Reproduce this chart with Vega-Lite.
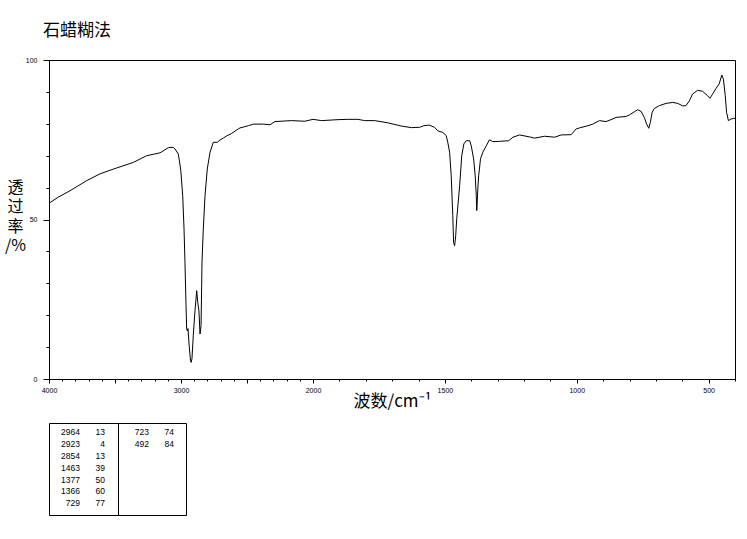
{
  "$schema": "https://vega.github.io/schema/vega-lite/v6.json",
  "background": "white",
  "padding": {"left": 3, "top": 21, "right": 5, "bottom": 5},
  "title": {"text": "石蜡糊法", "anchor": "start", "font": "Noto Sans CJK SC", "fontSize": 17, "fontWeight": "normal", "color": "black", "dx": 39, "offset": 16},
  "bounds": "flush",
  "spacing": 44,
  "datasets": {
    "peaks": [
      {"col": 1, "row": 1, "wn": 2964, "t": 13},
      {"col": 1, "row": 2, "wn": 2923, "t": 4},
      {"col": 1, "row": 3, "wn": 2854, "t": 13},
      {"col": 1, "row": 4, "wn": 1463, "t": 39},
      {"col": 1, "row": 5, "wn": 1377, "t": 50},
      {"col": 1, "row": 6, "wn": 1366, "t": 60},
      {"col": 1, "row": 7, "wn": 729, "t": 77},
      {"col": 2, "row": 1, "wn": 723, "t": 74},
      {"col": 2, "row": 2, "wn": 492, "t": 84}
    ]
  },
  "vconcat": [
    {
      "width": 686,
      "height": 319,
      "data": {"values": [
        {"wn": 3999, "T": 55.1}, {"wn": 3930, "T": 57.0}, {"wn": 3841, "T": 59.0}, {"wn": 3714, "T": 62.2},
        {"wn": 3614, "T": 64.3}, {"wn": 3513, "T": 65.8}, {"wn": 3361, "T": 67.9}, {"wn": 3260, "T": 70.0},
        {"wn": 3159, "T": 70.9}, {"wn": 3096, "T": 72.5}, {"wn": 3083, "T": 72.6}, {"wn": 3058, "T": 72.6},
        {"wn": 3045, "T": 72.1}, {"wn": 3020, "T": 70.5}, {"wn": 3002, "T": 65.5}, {"wn": 2987, "T": 57.5},
        {"wn": 2977, "T": 47.0}, {"wn": 2970, "T": 36.6}, {"wn": 2962, "T": 23.0}, {"wn": 2957, "T": 15.7},
        {"wn": 2952, "T": 15.1}, {"wn": 2947, "T": 15.8}, {"wn": 2938, "T": 10.4}, {"wn": 2928, "T": 5.8},
        {"wn": 2924, "T": 5.2}, {"wn": 2917, "T": 6.3}, {"wn": 2907, "T": 13.6}, {"wn": 2894, "T": 21.4},
        {"wn": 2881, "T": 27.7}, {"wn": 2873, "T": 24.0}, {"wn": 2864, "T": 21.4}, {"wn": 2856, "T": 14.1},
        {"wn": 2848, "T": 16.7}, {"wn": 2841, "T": 36.6}, {"wn": 2831, "T": 47.0}, {"wn": 2818, "T": 57.5},
        {"wn": 2801, "T": 65.8}, {"wn": 2780, "T": 71.1}, {"wn": 2755, "T": 74.2}, {"wn": 2725, "T": 74.2},
        {"wn": 2705, "T": 74.9}, {"wn": 2680, "T": 75.5}, {"wn": 2654, "T": 76.2}, {"wn": 2616, "T": 77.0},
        {"wn": 2566, "T": 78.4}, {"wn": 2553, "T": 78.7}, {"wn": 2490, "T": 79.4}, {"wn": 2452, "T": 79.9},
        {"wn": 2376, "T": 79.9}, {"wn": 2326, "T": 79.7}, {"wn": 2288, "T": 80.7}, {"wn": 2162, "T": 81.0},
        {"wn": 2063, "T": 80.8}, {"wn": 2000, "T": 81.4}, {"wn": 1968, "T": 81.0}, {"wn": 1905, "T": 81.3},
        {"wn": 1867, "T": 81.4}, {"wn": 1830, "T": 81.4}, {"wn": 1804, "T": 81.0}, {"wn": 1766, "T": 81.0},
        {"wn": 1716, "T": 80.3}, {"wn": 1665, "T": 79.3}, {"wn": 1627, "T": 78.8}, {"wn": 1596, "T": 78.9},
        {"wn": 1580, "T": 79.4}, {"wn": 1560, "T": 79.6}, {"wn": 1539, "T": 78.9}, {"wn": 1527, "T": 77.8},
        {"wn": 1508, "T": 77.3}, {"wn": 1495, "T": 76.3}, {"wn": 1489, "T": 74.2}, {"wn": 1482, "T": 71.1},
        {"wn": 1476, "T": 63.7}, {"wn": 1470, "T": 51.2}, {"wn": 1467, "T": 42.8}, {"wn": 1463, "T": 41.8},
        {"wn": 1459, "T": 44.9}, {"wn": 1455, "T": 50.2}, {"wn": 1444, "T": 60.6}, {"wn": 1436, "T": 70.0},
        {"wn": 1428, "T": 73.7}, {"wn": 1419, "T": 74.7}, {"wn": 1406, "T": 74.7}, {"wn": 1400, "T": 73.1},
        {"wn": 1391, "T": 69.0}, {"wn": 1385, "T": 63.7}, {"wn": 1381, "T": 57.5}, {"wn": 1379, "T": 52.8},
        {"wn": 1375, "T": 59.6}, {"wn": 1372, "T": 63.7}, {"wn": 1369, "T": 65.8}, {"wn": 1365, "T": 69.0},
        {"wn": 1356, "T": 71.1}, {"wn": 1343, "T": 73.1}, {"wn": 1331, "T": 75.0}, {"wn": 1318, "T": 74.4},
        {"wn": 1293, "T": 74.5}, {"wn": 1258, "T": 74.7}, {"wn": 1242, "T": 75.8}, {"wn": 1217, "T": 76.5},
        {"wn": 1179, "T": 75.9}, {"wn": 1160, "T": 75.5}, {"wn": 1122, "T": 76.1}, {"wn": 1084, "T": 75.8},
        {"wn": 1059, "T": 76.5}, {"wn": 1021, "T": 76.6}, {"wn": 1002, "T": 78.4}, {"wn": 990, "T": 78.7},
        {"wn": 958, "T": 79.4}, {"wn": 939, "T": 79.9}, {"wn": 914, "T": 81.0}, {"wn": 889, "T": 80.7},
        {"wn": 870, "T": 81.3}, {"wn": 851, "T": 82.0}, {"wn": 813, "T": 82.3}, {"wn": 800, "T": 82.8},
        {"wn": 781, "T": 83.8}, {"wn": 769, "T": 84.4}, {"wn": 756, "T": 83.9}, {"wn": 744, "T": 82.0},
        {"wn": 735, "T": 79.9}, {"wn": 727, "T": 78.6}, {"wn": 721, "T": 80.4}, {"wn": 714, "T": 83.6},
        {"wn": 706, "T": 84.8}, {"wn": 687, "T": 85.7}, {"wn": 661, "T": 86.4}, {"wn": 636, "T": 86.7},
        {"wn": 617, "T": 86.4}, {"wn": 598, "T": 85.6}, {"wn": 586, "T": 85.7}, {"wn": 573, "T": 87.2},
        {"wn": 561, "T": 89.3}, {"wn": 542, "T": 90.5}, {"wn": 523, "T": 90.2}, {"wn": 504, "T": 88.8},
        {"wn": 495, "T": 88.0}, {"wn": 485, "T": 89.3}, {"wn": 472, "T": 91.1}, {"wn": 460, "T": 92.5},
        {"wn": 450, "T": 95.3}, {"wn": 444, "T": 94.0}, {"wn": 437, "T": 88.8}, {"wn": 432, "T": 83.6},
        {"wn": 425, "T": 81.0}, {"wn": 415, "T": 81.5}, {"wn": 406, "T": 81.7}, {"wn": 400, "T": 81.7}
      ]},
      "mark": {"type": "line", "color": "black", "strokeWidth": 1},
      "encoding": {
        "x": {
          "field": "wn", "type": "quantitative",
          "scale": {"domain": [4000, 2000, 400], "range": [0, 264, 686], "nice": false, "zero": false},
          "axis": {
            "values": [4000, 3900, 3800, 3700, 3600, 3500, 3400, 3300, 3200, 3100, 3000, 2900, 2800, 2700, 2600, 2500, 2400, 2300, 2200, 2100, 2000, 1900, 1800, 1700, 1600, 1500, 1400, 1300, 1200, 1100, 1000, 900, 800, 700, 600, 500, 400],
            "format": "d",
            "labelExpr": "indexof([4000, 3000, 2000, 1500, 1000, 500], datum.value) >= 0 ? datum.label : ''",
            "labelOverlap": false,
            "labelFlush": false,
            "labelFont": "Liberation Sans", "labelFontSize": 7, "labelPadding": 3,
            "tickSize": {"condition": {"test": "datum.value % 500 === 0", "value": 4}, "value": 2},
            "title": "波数/cm⁻¹", "titleFont": "Noto Sans CJK SC", "titleFontSize": 17, "titleFontWeight": "normal", "titlePadding": 0
          }
        },
        "y": {
          "field": "T", "type": "quantitative",
          "scale": {"domain": [0, 100], "nice": false, "zero": false},
          "axis": {
            "values": [0, 10, 20, 30, 40, 50, 60, 70, 80, 90, 100],
            "format": "d",
            "labelExpr": "datum.value % 50 === 0 ? datum.label : ''",
            "labelOverlap": false,
            "labelFlush": false,
            "labelFont": "Liberation Sans", "labelFontSize": 7, "labelPadding": 6,
            "tickSize": {"condition": {"test": "datum.value % 50 === 0", "value": 6}, "value": 3},
            "title": ["透", "过", "率", "/%"], "titleFont": "Noto Sans CJK SC", "titleFontSize": 16, "titleFontWeight": "normal",
            "titleAngle": 0, "titleAlign": "center", "titleBaseline": "middle", "titleLineHeight": 19.5,
            "titleX": -34, "titleY": 127
          }
        }
      }
    },
    {
      "spacing": 0,
      "bounds": "flush",
      "hconcat": [
        {
          "width": 69, "height": 92,
          "data": {"name": "peaks"},
          "transform": [{"filter": "datum.col === 1"}, {"fold": ["wn", "t"], "as": ["key", "value"]}],
          "mark": {"type": "text", "align": "right", "baseline": "middle", "font": "Liberation Sans", "fontSize": 8.5, "color": "black"},
          "encoding": {
            "x": {"field": "key", "type": "nominal", "scale": {"type": "point", "domain": ["wn", "t"], "padding": 0.88, "align": 0.705}, "axis": null},
            "y": {"field": "row", "type": "ordinal", "scale": {"type": "point", "domain": [1, 2, 3, 4, 5, 6, 7], "padding": 0.866, "align": 0.437}, "axis": null},
            "text": {"field": "value", "type": "quantitative", "format": "d"}
          }
        },
        {
          "width": 68, "height": 92,
          "data": {"name": "peaks"},
          "transform": [{"filter": "datum.col === 2"}, {"fold": ["wn", "t"], "as": ["key", "value"]}],
          "mark": {"type": "text", "align": "right", "baseline": "middle", "font": "Liberation Sans", "fontSize": 8.5, "color": "black"},
          "encoding": {
            "x": {"field": "key", "type": "nominal", "scale": {"type": "point", "domain": ["wn", "t"], "padding": 0.86, "align": 0.72}, "axis": null},
            "y": {"field": "row", "type": "ordinal", "scale": {"type": "point", "domain": [1, 2, 3, 4, 5, 6, 7], "padding": 0.866, "align": 0.437}, "axis": null},
            "text": {"field": "value", "type": "quantitative", "format": "d"}
          }
        }
      ]
    }
  ],
  "config": {
    "view": {"stroke": "black", "strokeWidth": 1},
    "axis": {"domainColor": "black", "tickColor": "black", "labelColor": "black", "titleColor": "black", "grid": false, "domainWidth": 1, "tickWidth": 1}
  }
}
